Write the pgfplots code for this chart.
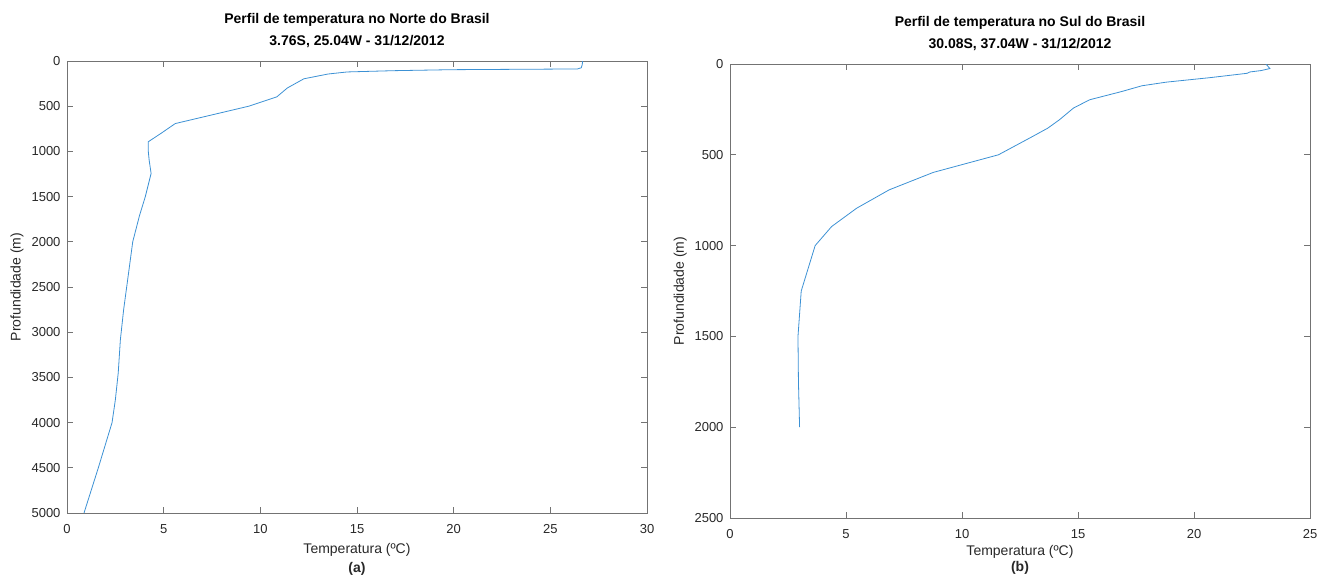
\documentclass[border=0pt]{standalone}
\usepackage{fontspec}
\setmainfont{Liberation Sans}
\usepackage{pgfplots}
\pgfplotsset{compat=1.18}

\definecolor{lineblue}{RGB}{60,145,212}
\definecolor{axgray}{RGB}{115,115,115}
\definecolor{txtgray}{RGB}{40,40,40}

\pgfplotsset{
  profile/.style={
    scale only axis,
    width=580pt,
    y dir=reverse,
    axis line style={axgray, line width=0.7pt},
    every tick/.style={axgray, line width=0.7pt},
    major tick length=6pt,
    tick align=inside,
    xtick pos=both, ytick pos=both,
    ticklabel style={font=\fontsize{13}{15}\selectfont, text=txtgray},
    /pgf/number format/assume math mode=true,
    /pgf/number format/set thousands separator={},
    scaled ticks=false,
    xticklabel style={yshift=-8pt},
    yticklabel style={xshift=-3pt},
    title style={font=\fontsize{14}{22}\selectfont\bfseries, text=black,
      align=center, at={(0.5,1)}, anchor=south, inner sep=0pt, yshift=7pt},
    xlabel style={text=txtgray, align=center,
      at={(axis description cs:0.5,0)}, anchor=north, inner sep=0pt},
    ylabel style={font=\fontsize{14}{16}\selectfont, text=txtgray,
      at={(axis description cs:-0.086,0.5)}, anchor=center, rotate=0},
    clip=true,
  }
}

\begin{document}
\begin{tikzpicture}[x=1pt,y=1pt]
\useasboundingbox (0,0) rectangle (1330,575);

% Northern profile
\begin{axis}[profile,
  at={(67pt,62pt)}, anchor=south west,
  height=452pt,
  xmin=0, xmax=30, ymin=0, ymax=5000,
  xtick={0,5,...,30}, ytick={0,500,...,5000},
  title={Perfil de temperatura no Norte do Brasil\\3.76S, 25.04W - 31/12/2012},
  xlabel style={font=\fontsize{14}{19}\selectfont, yshift=-30pt},
  xlabel={Temperatura (ºC)\\\textbf{(a)}},
  ylabel={Profundidade (m)},
]
\addplot[lineblue, line width=0.8pt] coordinates {
  (26.67,0) (26.65,40) (26.60,75) (26.40,88) (19.90,96) (16.90,107)
  (14.50,121) (13.50,144) (12.25,197) (11.40,298) (10.85,397) (9.40,500)
  (5.60,692) (4.90,795) (4.20,894) (4.20,990) (4.25,1097) (4.35,1244)
  (4.05,1501) (3.75,1710) (3.40,2000) (3.15,2400) (2.93,2750) (2.76,3085)
  (2.65,3450) (2.50,3750) (2.33,4000) (1.62,4500) (0.88,5000)
};
\end{axis}

% Southern profile
\begin{axis}[profile,
  at={(730pt,57pt)}, anchor=south west,
  height=454pt,
  xmin=0, xmax=25, ymin=0, ymax=2500,
  xtick={0,5,...,25}, ytick={0,500,...,2500},
  title={Perfil de temperatura no Sul do Brasil\\30.08S, 37.04W - 31/12/2012},
  xlabel style={font=\fontsize{14}{16}\selectfont, yshift=-27pt},
  xlabel={Temperatura (ºC)\\\textbf{(b)}},
  ylabel={Profundidade (m)},
]
\addplot[lineblue, line width=0.8pt] coordinates {
  (23.10,0) (23.27,25) (22.90,36) (22.40,44) (22.30,51) (20.70,75)
  (18.80,100) (17.75,120) (16.90,151) (15.50,197) (14.80,243) (14.20,307)
  (13.70,353) (13.00,402) (11.57,500) (8.76,597) (6.86,693) (5.46,794)
  (4.38,895) (3.67,1000) (3.07,1250) (2.93,1500) (2.95,1750) (3.00,2000)
};
\end{axis}
\end{tikzpicture}
\end{document}
